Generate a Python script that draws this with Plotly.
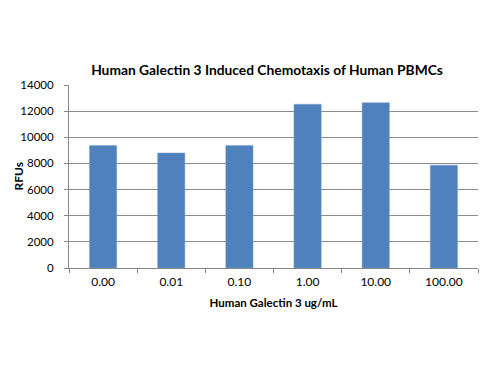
import plotly.graph_objects as go

categories = ["0.00", "0.01", "0.10", "1.00", "10.00", "100.00"]
rfus = [9380, 8800, 9380, 12530, 12650, 7870]
y_ticks = [0, 2000, 4000, 6000, 8000, 10000, 12000, 14000]

font_family = "Lato, 'Open Sans', Arial, sans-serif"

# The page body has an 8px default margin, so the figure is offset by 8px.
L, R, T, B = 61, 30, 77, 115
plot_w = 500 - L - R

fig = go.Figure(
    go.Bar(
        x=categories,
        y=rfus,
        marker=dict(color="#4F81BD", line=dict(color="#7FA3D0", width=0.5)),
    )
)

fig.update_layout(
    width=500,
    height=375,
    paper_bgcolor="white",
    plot_bgcolor="white",
    margin=dict(l=L, r=R, t=T, b=B, autoexpand=False),
    bargap=0.6,
    showlegend=False,
    font=dict(family=font_family, color="#000000", size=12),
    title=dict(
        text="<b>Human Galectin 3 Induced Chemotaxis of Human PBMCs</b>",
        x=259 / 500,
        xanchor="center",
        y=1 - 62 / 375,
        yanchor="middle",
        font=dict(size=13.8, family=font_family),
    ),
    annotations=[
        dict(
            text="<b>RFUs</b>",
            xref="paper",
            yref="paper",
            x=(10 - L) / plot_w,
            y=0.5,
            xanchor="center",
            yanchor="middle",
            textangle=-90,
            showarrow=False,
            font=dict(size=12, family=font_family),
        )
    ],
)

fig.update_xaxes(
    type="category",
    showline=True,
    linecolor="#888888",
    linewidth=1,
    ticks="outside",
    tickson="boundaries",
    ticklen=4,
    tickcolor="#888888",
    showgrid=False,
    tickfont=dict(size=12),
    ticklabelstandoff=3,
    title=dict(text="<b>Human Galectin 3 ug/mL</b>", font=dict(size=11.5), standoff=10),
)

fig.update_yaxes(
    range=[0, 14000],
    tickvals=y_ticks,
    ticktext=[str(v) for v in y_ticks],
    showline=True,
    linecolor="#888888",
    linewidth=1,
    ticks="outside",
    ticklen=4,
    tickcolor="#888888",
    showgrid=True,
    gridcolor="#8C8C8C",
    gridwidth=1,
    zeroline=False,
    tickfont=dict(size=11.5),
    ticklabelstandoff=8,
)

fig.write_html("out.html")
